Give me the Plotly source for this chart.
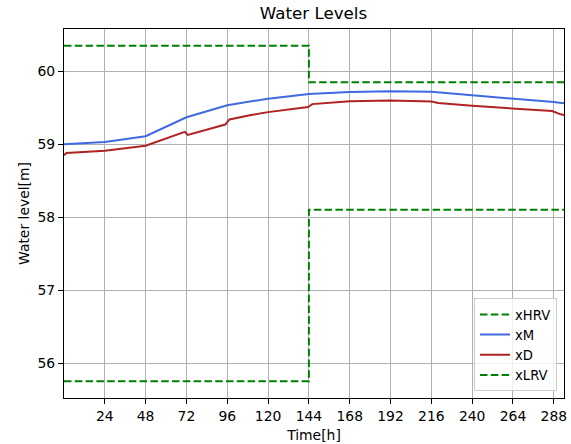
import plotly.graph_objects as go

# ---- data ----
t_lim = [0, 144, 144, 294]
x_hrv = [60.35, 60.35, 59.85, 59.85]
x_lrv = [55.75, 55.75, 58.10, 58.10]

t_m = [0, 24, 48, 60, 72, 96, 120, 144, 168, 192, 216, 240, 264, 288, 294]
x_m = [59.00, 59.03, 59.11, 59.24, 59.37, 59.535, 59.625, 59.69, 59.715, 59.727,
       59.72, 59.67, 59.63, 59.58, 59.56]

t_d = [0, 1.5, 24, 48, 71, 72.8, 94.8, 97.3, 110, 120, 143.5, 146, 168, 192,
       216, 220, 240, 264, 287, 292, 294]
x_d = [58.85, 58.88, 58.91, 58.98, 59.17, 59.127, 59.27, 59.34, 59.40, 59.44,
       59.51, 59.55, 59.59, 59.60, 59.585, 59.565, 59.526, 59.49, 59.455, 59.41, 59.40]

x_ticks = list(range(24, 289, 24))
y_ticks = [56, 57, 58, 59, 60]

FONT = "DejaVu Sans"
FS = 13.9
fig = go.Figure()
fig.add_trace(go.Scatter(x=t_lim, y=x_hrv, mode="lines", name="xHRV",
                         line=dict(color="#008000", width=2, dash="7.5px,3.3px")))
fig.add_trace(go.Scatter(x=t_m, y=x_m, mode="lines", name="xM",
                         line=dict(color="#4169E1", width=2)))
fig.add_trace(go.Scatter(x=t_d, y=x_d, mode="lines", name="xD",
                         line=dict(color="#B22222", width=2)))
fig.add_trace(go.Scatter(x=t_lim, y=x_lrv, mode="lines", name="xLRV",
                         line=dict(color="#008000", width=2, dash="7.5px,3.3px")))

axis_common = dict(showline=True, linecolor="black", linewidth=1, mirror=True,
                   ticks="outside", ticklen=5, tickcolor="black", tickwidth=1,
                   showgrid=True, gridcolor="#b0b0b0", gridwidth=1, zeroline=False,
                   automargin=False,
                   tickfont=dict(family=FONT, size=FS, color="black"))

fig.update_layout(
    width=571, height=444,
    margin=dict(l=64, r=7, t=29, b=46),
    paper_bgcolor="white", plot_bgcolor="white",
    font=dict(family=FONT, size=FS, color="black"),
    title=dict(text="Water Levels", x=0.549, xanchor="center", y=1 - 13.5 / 444,
               yanchor="middle", font=dict(family=FONT, size=16.7, color="black")),
    xaxis=dict(range=[0, 294], tickvals=x_ticks,
               title=dict(text="Time[h]", standoff=7,
                          font=dict(family=FONT, size=FS, color="black")),
               **axis_common),
    yaxis=dict(range=[55.52, 60.58], tickvals=y_ticks,
               title=dict(text="Water level[m]", standoff=4,
                          font=dict(family=FONT, size=FS, color="black")),
               **axis_common),
    legend=dict(x=0.986, xanchor="right", y=0.018, yanchor="bottom",
                bgcolor="rgba(255,255,255,0.8)", bordercolor="#cccccc", borderwidth=1,
                traceorder="normal", itemwidth=30,
                font=dict(family=FONT, size=13.2, color="black")),
)

fig.write_html("out.html")
